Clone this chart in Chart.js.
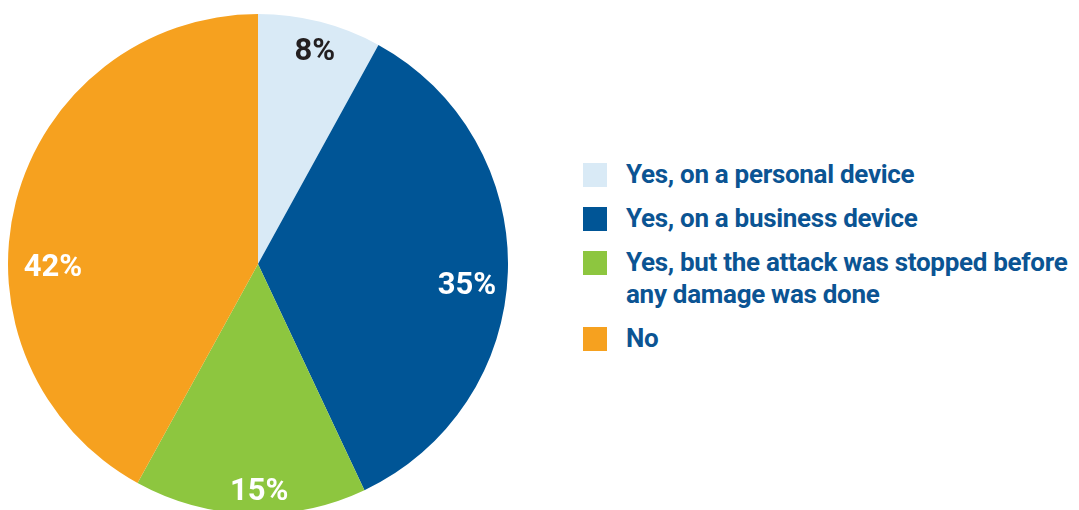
<!DOCTYPE html>
<html>
<head>
<meta charset="utf-8">
<script src="https://cdn.jsdelivr.net/npm/chart.js@4/dist/chart.umd.min.js"></script>
<style>
  html, body { margin: 0; padding: 0; background: #fff; width: 1079px; height: 510px; overflow: hidden; }
  #pieBox { position: absolute; left: 8px; top: 14px; width: 500px; height: 500px; }
  #legend { position: absolute; left: 583px; top: 158px; margin: 0; padding: 0; list-style: none;
    font-family: "Roboto", sans-serif; font-weight: bold; font-size: 26px; letter-spacing: -0.3px;
    color: #0b5493; white-space: nowrap; }
  #legend li { position: relative; padding-left: 43px; line-height: 32px; margin-bottom: 12px; }
  #legend .sw { position: absolute; left: 0; top: 5px; width: 24px; height: 24px; }
</style>
</head>
<body>
<div id="pieBox"><canvas id="c"></canvas></div>
<ul id="legend"></ul>
<script>
const categories = [
  "Yes, on a personal device",
  "Yes, on a business device",
  ["Yes, but the attack was stopped before", "any damage was done"],
  "No"
];
const values = [8, 35, 15, 42];
const colors = ["#d9eaf6", "#005596", "#8dc63f", "#f6a11f"];
const labelColors = ["#231f20", "#ffffff", "#ffffff", "#ffffff"];
// label placement styling: radial fraction and angular nudge (degrees) from slice middle
const labelRadius = [0.88, 0.84, 0.91, 0.82];
const labelNudge = [0.6, 4, -2.1, -15.2];

const pctLabels = {
  id: 'pctLabels',
  afterDatasetsDraw(chart) {
    const ctx = chart.ctx;
    const meta = chart.getDatasetMeta(0);
    ctx.save();
    ctx.font = 'bold 31px "Roboto", sans-serif';
    ctx.textAlign = 'center';
    ctx.textBaseline = 'middle';
    meta.data.forEach((arc, i) => {
      const p = arc.getProps(['x', 'y', 'startAngle', 'endAngle', 'outerRadius'], true);
      const mid = (p.startAngle + p.endAngle) / 2 + labelNudge[i] * Math.PI / 180;
      const r = p.outerRadius * labelRadius[i];
      ctx.fillStyle = labelColors[i];
      ctx.fillText(values[i] + '%', p.x + r * Math.cos(mid), p.y + r * Math.sin(mid) + 1);
    });
    ctx.restore();
  }
};

new Chart(document.getElementById('c'), {
  type: 'pie',
  data: {
    labels: categories.map(c => Array.isArray(c) ? c.join(' ') : c),
    datasets: [{ data: values, backgroundColor: colors, borderWidth: 0 }]
  },
  options: {
    responsive: true,
    maintainAspectRatio: false,
    animation: false,
    layout: { padding: 0 },
    plugins: { legend: { display: false }, tooltip: { enabled: false } }
  },
  plugins: [pctLabels]
});

const ul = document.getElementById('legend');
categories.forEach((c, i) => {
  const li = document.createElement('li');
  const sw = document.createElement('span');
  sw.className = 'sw';
  sw.style.background = colors[i];
  li.appendChild(sw);
  const lines = Array.isArray(c) ? c : [c];
  lines.forEach((t, k) => {
    if (k) li.appendChild(document.createElement('br'));
    li.appendChild(document.createTextNode(t));
  });
  ul.appendChild(li);
});
</script>
</body>
</html>
